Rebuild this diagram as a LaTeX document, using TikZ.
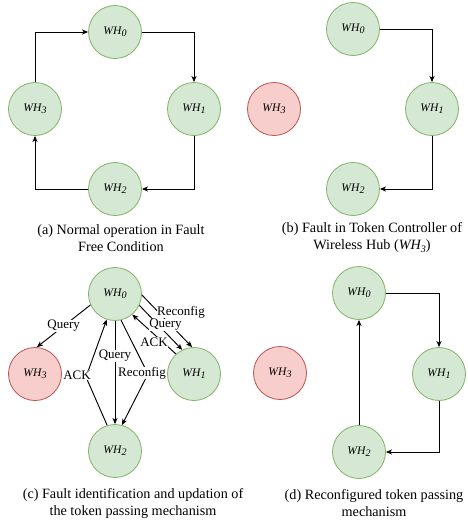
\documentclass[tikz,border=0pt]{standalone}
\usepackage{fontspec}
\setmainfont{Liberation Serif}
\usepackage{tikz}
\usetikzlibrary{shadows,arrows,arrows.meta}
\usepackage{tikz-dependency}

\definecolor{hubfill}{HTML}{D5E8D4}
\definecolor{hubline}{HTML}{82B366}
\definecolor{badfill}{HTML}{F8CECC}
\definecolor{badline}{HTML}{B85450}

\newcommand{\wh}[1]{\textit{WH\raisebox{-0.4ex}{\fontsize{10}{10}\selectfont #1}}}

\begin{document}
\begin{tikzpicture}[x=1pt, y=-1pt]
                \depstyle{hub}{circle, line width=0.8pt, draw=hubline, fill=hubfill, minimum size=53pt, inner sep=0pt, font=\fontsize{11.6}{11.6}\selectfont}
                \depstyle{badhub}{hub, draw=badline, fill=badfill}
                \depstyle{tarrow}{-{Stealth[length=6pt, width=5pt, inset=1.5pt]}, line width=0.95pt}
                \depstyle{tlabel}{fill=white, inner sep=0.5pt, font=\fontsize{13}{13}\selectfont}
                \depstyle{caption}{align=center, font=\fontsize{14.2}{17}\selectfont}
                \useasboundingbox (0, 0) rectangle (467, 525);

                % (a) Кольцо без отказов:
                \node[hub] (a0)      at (115, 32)   {\wh{0}};
                \node[hub] (a1)      at (194, 109)  {\wh{1}};
                \node[hub] (a2)      at (115, 189)  {\wh{2}};
                \node[hub] (a3)      at (35, 109)   {\wh{3}};
                \draw[tarrow] (a0) -| (a1);
                \draw[tarrow] (a1) |- (a2);
                \draw[tarrow] (a2) -| (a3);
                \draw[tarrow] (a3) |- (a0);
                \node[caption] (capa) at (121, 238) {(a) Normal operation in Fault\\Free Condition};

                % (b) Отказ WH3:
                \node[hub]    (b0)   at (353, 29)   {\wh{0}};
                \node[hub]    (b1)   at (432, 109)  {\wh{1}};
                \node[hub]    (b2)   at (353, 189)  {\wh{2}};
                \node[badhub] (b3)   at (274, 109)  {\wh{3}};
                \draw[tarrow] (b0) -| (b1);
                \draw[tarrow] (b1) |- (b2);
                \node[caption] (capb) at (372, 238) {(b) Fault in Token Controller of\\Wireless Hub (\wh{3})};

                % (c) Запросы и подтверждения:
                \node[hub]    (c0)   at (115, 294)  {\wh{0}};
                \node[hub]    (c1)   at (194, 374)  {\wh{1}};
                \node[hub]    (c2)   at (115, 451)  {\wh{2}};
                \node[badhub] (c3)   at (35, 374)   {\wh{3}};
                \coordinate (rbend) at (148, 374);
                \coordinate (abend) at (86, 377);
                \draw[tarrow] (c0.204) -- node[tlabel] {Query} (c3.86);
                \draw[tarrow] (c0) -- node[tlabel, pos=0.34] {Query} (c2);
                \draw[tarrow] (c0.283) -- (rbend) -- (c2.75);
                \draw[tarrow] (c2.107) -- (abend) -- (c0.252);
                \draw[tarrow] (c0.358) -- (c1.94);
                \draw[tarrow] (c0.335) -- (c1.116);
                \draw[tarrow] (c1.132) -- (c0.310);
                \node[tlabel] (lrec2) at (142, 373)   {Reconfig};
                \node[tlabel] (lack2) at (77, 375)    {ACK};
                \node[tlabel] (lrec1) at (181, 312)   {Reconfig};
                \node[tlabel] (lqry1) at (165.5, 325) {Query};
                \node[tlabel] (lack1) at (154, 342)   {ACK};
                \node[caption] (capc) at (133, 504) {(c) Fault identification and updation of\\the token passing mechanism};

                % (d) Новое кольцо:
                \node[hub]    (d0)   at (359, 293)  {\wh{0}};
                \node[hub]    (d1)   at (439, 374)  {\wh{1}};
                \node[hub]    (d2)   at (359, 452)  {\wh{2}};
                \node[badhub] (d3)   at (280, 373)  {\wh{3}};
                \draw[tarrow] (d0) -| (d1);
                \draw[tarrow] (d1) |- (d2);
                \draw[tarrow] (d2) -- (d0);
                \node[caption] (capd) at (374, 503) {(d) Reconfigured token passing\\mechanism};
\end{tikzpicture}
\end{document}
